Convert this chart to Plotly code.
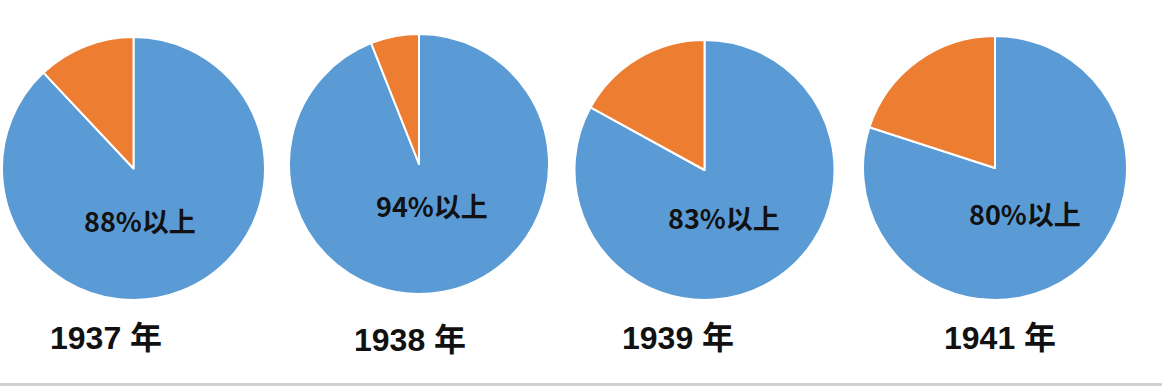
import plotly.graph_objects as go

W, H = 1162, 388

years = ["1937 年", "1938 年", "1939 年", "1941 年"]
main_share = [88, 94, 83, 80]
other_share = [12, 6, 17, 20]
share_labels = ["88%以上", "94%以上", "83%以上", "80%以上"]
slice_names = ["主要", "其他"]

# pixel geometry (layout only)
centers = [(133.5, 168.5), (419, 164), (704.5, 170), (995, 168)]
radii = [131.5, 130, 130, 132]
pct_pos = [(140, 220), (432, 205), (724, 217), (1025, 213)]
year_pos = [(106, 338), (410, 340), (678, 338), (1000, 338)]

BLUE = "#5B9BD5"
ORANGE = "#ED7D31"

fig = go.Figure()
for i in range(len(years)):
    cx, cy = centers[i]
    r = radii[i]
    fig.add_trace(go.Pie(
        labels=slice_names,
        values=[main_share[i], other_share[i]],
        sort=False,
        direction="clockwise",
        rotation=0,
        textinfo="none",
        marker=dict(colors=[BLUE, ORANGE], line=dict(color="white", width=2)),
        domain=dict(x=[(cx - r) / W, (cx + r) / W],
                    y=[1 - (cy + r) / H, 1 - (cy - r) / H]),
        showlegend=False,
        name=years[i],
    ))

annotations = []
for i in range(len(years)):
    px, py = pct_pos[i]
    annotations.append(dict(
        x=px / W, y=1 - py / H, xref="paper", yref="paper",
        text="<b>" + share_labels[i] + "</b>", showarrow=False,
        font=dict(family="Noto Sans CJK SC, Noto Sans, sans-serif", size=27, color="#111111"),
        xanchor="center", yanchor="middle",
    ))
    px, py = year_pos[i]
    annotations.append(dict(
        x=px / W, y=1 - py / H, xref="paper", yref="paper",
        text="<b>" + years[i] + "</b>", showarrow=False,
        font=dict(family="Liberation Sans, Noto Sans CJK SC, sans-serif", size=32, color="#111111"),
        xanchor="center", yanchor="middle",
    ))

fig.update_layout(
    width=W, height=H,
    margin=dict(l=0, r=0, t=0, b=0),
    paper_bgcolor="white",
    plot_bgcolor="white",
    annotations=annotations,
    shapes=[dict(type="line", xref="paper", yref="paper",
                 x0=0, x1=1, y0=1 - 384.5 / H, y1=1 - 384.5 / H,
                 line=dict(color="#d0d0d0", width=3))],
)

fig.write_html("out.html",
               config={"displayModeBar": False},
               post_script="document.body.style.margin='0';document.body.style.padding='0';")
